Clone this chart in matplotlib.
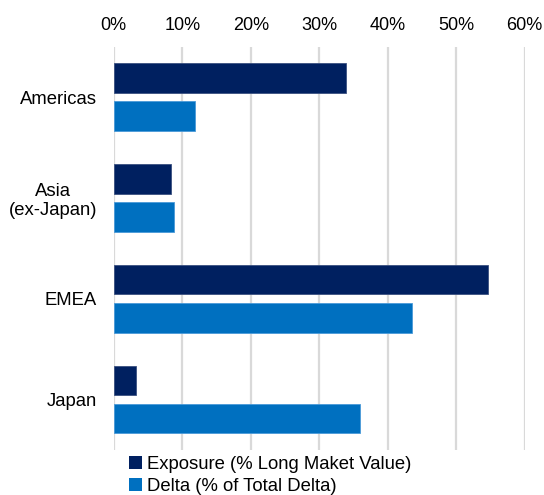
import matplotlib
matplotlib.use("Agg")
import matplotlib.pyplot as plt
import numpy as np
from matplotlib.ticker import FuncFormatter, MultipleLocator

plt.rcParams['font.family'] = ['Liberation Sans', 'DejaVu Sans']

categories = ["Americas", "Asia\n(ex-Japan)", "EMEA", "Japan"]
exposure = [33.9, 8.3, 54.6, 3.3]
delta = [11.8, 8.8, 43.5, 35.9]
series_names = ["Exposure (% Long Maket Value)", "Delta (% of Total Delta)"]
colors = ["#002060", "#0070C0"]
edge_colors = ["#3A5080", "#4A9AD8"]

fig = plt.figure(figsize=(5.44, 4.95), dpi=100)
ax = fig.add_axes([0.209, 0.0909, 0.7555, 0.815])

y = np.arange(len(categories))
h = 0.293
off = 0.189
ax.barh(y - off, exposure, height=h, color=colors[0], edgecolor=edge_colors[0],
        linewidth=0.6, label=series_names[0], zorder=3)
ax.barh(y + off, delta, height=h, color=colors[1], edgecolor=edge_colors[1],
        linewidth=0.6, label=series_names[1], zorder=3)

ax.set_xlim(0, 60)
ax.set_ylim(3.5, -0.5)
ax.xaxis.set_major_locator(MultipleLocator(10))
ax.xaxis.set_major_formatter(FuncFormatter(lambda v, p: f"{v:.0f}%"))
ax.xaxis.tick_top()
ax.tick_params(axis='x', length=0, pad=9, labelsize=13, colors='#000000')
ax.set_yticks(y)
ax.set_yticklabels(categories, fontsize=13.3, multialignment='center')
ax.tick_params(axis='y', length=0, pad=12)
ax.grid(axis='x', color='#D9D9D9', linewidth=1.6, zorder=0)
ax.set_axisbelow(True)
for s in ax.spines.values():
    s.set_visible(False)

leg = fig.legend(loc='upper left', bbox_to_anchor=(129/544, 1 - 456/495),
                 frameon=False, fontsize=13.3, handlelength=0.7, handleheight=0.7,
                 handletextpad=0.25, labelspacing=0.25, borderpad=0, borderaxespad=0)
for p in leg.get_patches():
    p.set_linewidth(0)

fig.savefig("out.png", dpi=100)
